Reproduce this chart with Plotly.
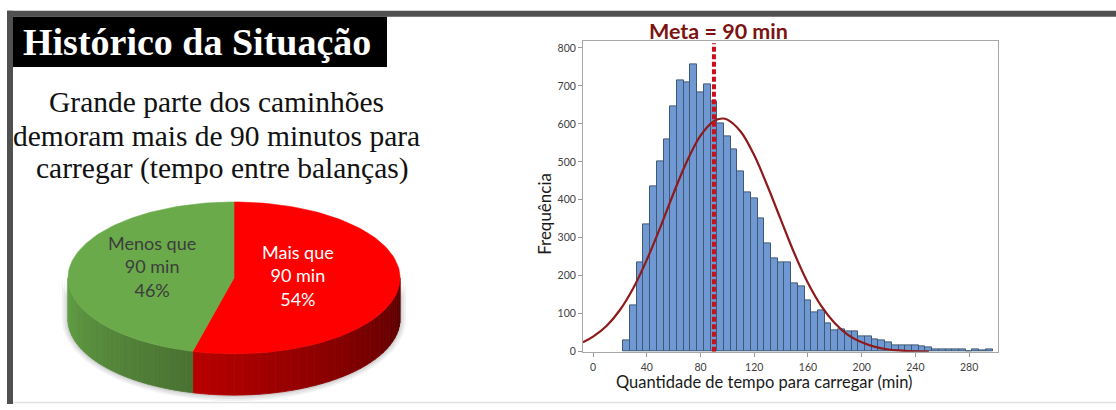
import numpy as np
import plotly.graph_objects as go

W, H = 1116, 410

# ---------------- data ----------------
# Histogram of loading time: bin midpoints (min) and frequencies
bin_mid = list(range(25, 300, 5))
counts = [29, 122, 234, 336, 435, 500, 558, 646, 715, 710,
          757, 684, 703, 660, 602, 567, 532, 476, 420, 405,
          351, 285, 247, 236, 236, 179, 171, 135, 104, 108,
          76, 56, 58, 53, 53, 40, 40, 33, 31, 24,
          18, 18, 18, 18, 14, 11, 7, 7, 7, 5,
          5, 2, 5, 3, 5]

# Fitted normal curve (points along the curve)
fit_x = [-7.5, 0, 10, 20, 30, 40, 50, 60, 70, 80, 90, 96, 100, 110, 120,
         130, 140, 150, 160, 170, 180, 190, 200, 210, 220, 230, 240, 250]
fit_y = [25, 40, 68, 110, 168, 242, 327, 418, 502, 569, 607, 614, 611, 579, 517,
         435, 346, 258, 181, 120, 75, 44, 25, 13, 6, 3, 1, 0.5]

meta_min = 90
x_ticks = [0, 40, 80, 120, 160, 200, 240, 280]
y_ticks = [0, 100, 200, 300, 400, 500, 600, 700, 800]

# Pie: share of trucks above / below the 90 min target
pie_labels = ["Mais que<br>90 min", "Menos que<br>90 min"]
pie_shares = [54, 46]

# ---------------- figure ----------------
fig = go.Figure()

# histogram bars
fig.add_trace(go.Bar(
    x=bin_mid, y=counts, width=5,
    marker=dict(color="#7099d3", line=dict(color="#3f5873", width=1)),
    hoverinfo="skip", showlegend=False, xaxis="x", yaxis="y"))

# fitted curve
fig.add_trace(go.Scatter(
    x=fit_x, y=fit_y, mode="lines", line=dict(color="#8e1b1b", width=2.2, shape="spline"),
    hoverinfo="skip", showlegend=False, xaxis="x", yaxis="y", cliponaxis=True))

# target line
fig.add_trace(go.Scatter(
    x=[meta_min, meta_min], y=[0, 812], mode="lines",
    line=dict(color="#c8101a", width=4, dash="5px,2.5px"),
    hoverinfo="skip", showlegend=False, xaxis="x", yaxis="y"))

# ---------------- 3D pie (drawn in pixel-like axis x2/y2) ----------------
cx, cy, ra, rb, depth = 234, 282, 166, 77, 42


def ell(theta_deg, dy=0.0):
    t = np.radians(theta_deg)
    return cx + ra * np.sin(t), cy - rb * np.cos(t) + dy


def hex_to_rgb(h):
    h = h.lstrip("#")
    return [int(h[i:i + 2], 16) for i in (0, 2, 4)]


def mix(c1, c2, f):
    a1, a2 = hex_to_rgb(c1), hex_to_rgb(c2)
    r = [round(a1[i] + (a2[i] - a1[i]) * f) for i in range(3)]
    return f"rgb({r[0]},{r[1]},{r[2]})"


total = sum(pie_shares)
split = 360.0 * pie_shares[0] / total  # red slice runs clockwise from 12 o'clock

# soft shadow under the pie
for k, alpha in enumerate([0.05, 0.06, 0.08]):
    grow = 6 - 2 * k
    th = np.linspace(90, 270, 80)
    xs_top = [cx + (ra + grow) * np.sin(np.radians(t)) for t in th]
    ys_top = [cy - (rb + grow) * np.cos(np.radians(t)) for t in th]
    xs = xs_top + xs_top[::-1]
    ys = ys_top + [y + depth for y in ys_top[::-1]]
    fig.add_trace(go.Scatter(x=xs, y=ys, fill="toself", mode="lines",
                             fillcolor=f"rgba(0,0,0,{alpha})", line=dict(width=0),
                             hoverinfo="skip", showlegend=False, xaxis="x2", yaxis="y2"))

side_specs = [
    # (theta start, theta end, colour at start, colour at end)
    (90.0, split, "#560000", "#b80000"),
    (split, 270.0, "#4a7232", "#62a045"),
]
for t0, t1, c0, c1 in side_specs:
    n = 36
    edges = np.linspace(t0, t1, n + 1)
    for i in range(n):
        a0, a1 = edges[i], edges[i + 1]
        th = np.linspace(a0, a1, 4)
        top = [ell(t) for t in th]
        bot = [ell(t, depth) for t in th[::-1]]
        xs = [p[0] for p in top + bot]
        ys = [p[1] for p in top + bot]
        col = mix(c0, c1, (i + 0.5) / n)
        fig.add_trace(go.Scatter(x=xs + [xs[0]], y=ys + [ys[0]], fill="toself", mode="lines",
                                 fillcolor=col, line=dict(width=0.8, color=col),
                                 hoverinfo="skip", showlegend=False, xaxis="x2", yaxis="y2"))

top_specs = [(0.0, split, "#ff0000"), (split, 360.0, "#6aaa4a")]
for t0, t1, col in top_specs:
    th = np.linspace(t0, t1, 120)
    pts = [ell(t) for t in th]
    xs = [cx] + [p[0] for p in pts] + [cx]
    ys = [cy] + [p[1] for p in pts] + [cy]
    fig.add_trace(go.Scatter(x=xs, y=ys, fill="toself", mode="lines",
                             fillcolor=col, line=dict(width=0.6, color=col),
                             hoverinfo="skip", showlegend=False, xaxis="x2", yaxis="y2"))

# ---------------- layout ----------------
def px(x):
    return x / W


def py(y):
    return 1 - y / H


shapes = [
    # slide frame
    dict(type="rect", xref="paper", yref="paper", x0=px(7), x1=px(W), y0=py(17), y1=py(11),
         fillcolor="#505050", line=dict(width=0), layer="above"),
    dict(type="rect", xref="paper", yref="paper", x0=px(7), x1=px(13), y0=py(H), y1=py(11),
         fillcolor="#505050", line=dict(width=0), layer="above"),
    dict(type="line", xref="paper", yref="paper", x0=px(13), x1=px(W), y0=py(408.5), y1=py(408.5),
         line=dict(color="#e2e2e2", width=1.5), layer="above"),
    # title box
    dict(type="rect", xref="paper", yref="paper", x0=px(13), x1=px(387), y0=py(68), y1=py(17),
         fillcolor="#000000", line=dict(width=0), layer="above"),
]

serif = "Liberation Serif, Times New Roman, serif"
sans = "Lato, Open Sans, sans-serif"

annotations = [
    dict(text="<b>Histórico da Situação</b>", xref="paper", yref="paper",
         x=px(197), y=py(43), xanchor="center", yanchor="middle", showarrow=False,
         font=dict(family=serif, size=38, color="#ffffff")),
    dict(text="Grande parte dos caminhões", xref="paper", yref="paper",
         x=px(216), y=py(104), xanchor="center", yanchor="middle", showarrow=False,
         font=dict(family=serif, size=29.5, color="#111111")),
    dict(text="demoram mais de 90 minutos para", xref="paper", yref="paper",
         x=px(216), y=py(138), xanchor="center", yanchor="middle", showarrow=False,
         font=dict(family=serif, size=29.5, color="#111111")),
    dict(text="carregar (tempo entre balanças)", xref="paper", yref="paper",
         x=px(222), y=py(171), xanchor="center", yanchor="middle", showarrow=False,
         font=dict(family=serif, size=29.5, color="#111111")),
    # pie labels
    dict(text=f"{pie_labels[1]}<br>{pie_shares[1]}%", xref="x2", yref="y2", x=152, y=270,
         xanchor="center", yanchor="middle", showarrow=False,
         font=dict(family=sans, size=18, color="#3d3d3d")),
    dict(text=f"{pie_labels[0]}<br>{pie_shares[0]}%", xref="x2", yref="y2", x=298, y=280,
         xanchor="center", yanchor="middle", showarrow=False,
         font=dict(family=sans, size=18, color="#ffffff")),
    # histogram texts
    dict(text=f"<b>Meta = {meta_min} min</b>", xref="paper", yref="paper",
         x=px(718), y=py(31), xanchor="center", yanchor="middle", showarrow=False,
         font=dict(family=sans, size=21.5, color="#7d1213")),
    dict(text="Frequência", xref="paper", yref="paper", textangle=-90,
         x=px(545), y=py(217), xanchor="center", yanchor="middle", showarrow=False,
         font=dict(family=sans, size=17, color="#1a1a1a")),
    dict(text="Quantidade de tempo para carregar (min)", xref="paper", yref="paper",
         x=px(764), y=py(388), xanchor="center", yanchor="middle", showarrow=False,
         font=dict(family=sans, size=16.5, color="#1a1a1a")),
]

fig.update_layout(
    width=W, height=H,
    margin=dict(l=0, r=0, t=0, b=0, pad=0),
    paper_bgcolor="#ffffff", plot_bgcolor="rgba(0,0,0,0)",
    bargap=0, showlegend=False,
    shapes=shapes, annotations=annotations,
    xaxis=dict(domain=[px(583), px(998)], range=[-7.5, 301.5], tickvals=x_ticks,
               ticks="outside", ticklen=4, tickcolor="#9a9a9a", showline=True,
               linecolor="#a8a8a8", linewidth=1, mirror=True, showgrid=False, zeroline=False,
               ticklabelstandoff=2,
               tickfont=dict(family=sans, size=10.5, color="#404040"), fixedrange=True),
    yaxis=dict(domain=[py(357), py(42)], range=[0, 817], tickvals=y_ticks,
               ticks="outside", ticklen=4, tickcolor="#9a9a9a", showline=True,
               linecolor="#a8a8a8", linewidth=1, mirror=True, showgrid=False, zeroline=False,
               tickfont=dict(family=sans, size=10.5, color="#404040"), fixedrange=True),
    xaxis2=dict(domain=[0, px(460)], range=[0, 460], visible=False, fixedrange=True),
    yaxis2=dict(domain=[0, 1], range=[H, 0], visible=False, fixedrange=True),
)

fig.write_html("out.html")
